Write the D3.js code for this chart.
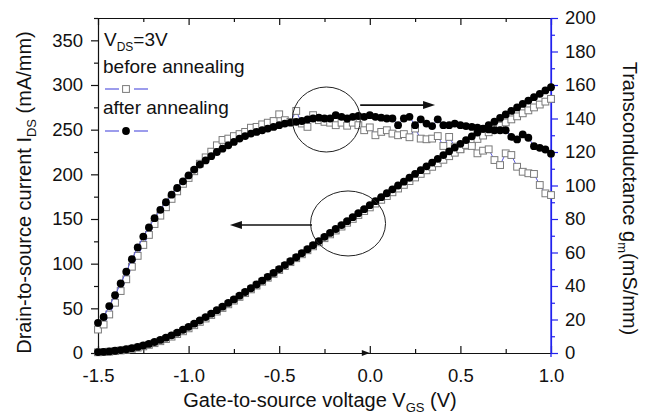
<!DOCTYPE html>
<html><head><meta charset="utf-8">
<script src="https://cdn.jsdelivr.net/npm/d3@7"></script>
<style>
body{margin:0;background:#fff}
text{font-family:Arial,"Liberation Sans",Helvetica,sans-serif;fill:#111}
</style>
</head><body>
<svg id="c" width="649" height="416"></svg>
<script>
// ---- data ----
const vgs=[-1.5,-1.469,-1.438,-1.406,-1.375,-1.344,-1.313,-1.281,-1.25,-1.219,-1.188,-1.156,-1.125,-1.094,-1.063,-1.031,-1.0,-0.969,-0.938,-0.906,-0.875,-0.844,-0.813,-0.781,-0.75,-0.719,-0.688,-0.656,-0.625,-0.594,-0.563,-0.531,-0.5,-0.469,-0.438,-0.406,-0.375,-0.344,-0.313,-0.281,-0.25,-0.219,-0.188,-0.156,-0.125,-0.094,-0.063,-0.031,0.0,0.031,0.063,0.094,0.125,0.156,0.188,0.219,0.25,0.281,0.313,0.344,0.375,0.406,0.438,0.469,0.5,0.531,0.563,0.594,0.625,0.656,0.688,0.719,0.75,0.781,0.813,0.844,0.875,0.906,0.938,0.969,1.0];
const idsAfter=[1.0,1.3,1.8,2.5,3.3,4.2,5.4,6.8,8.4,10.2,12.3,14.6,17.1,19.8,22.8,26.0,29.3,32.8,36.4,40.2,44.0,47.9,51.9,56.0,60.0,64.2,68.3,72.5,76.7,81.0,85.3,89.6,94.0,98.4,102.8,107.2,111.7,116.2,120.7,125.3,130,134.4,138.8,143.2,147.6,152,156.5,161,165.5,170,174.4,178.8,183.2,187.5,191.8,196.2,200.5,204.7,209,213.2,217.4,221.6,225.8,230,234.2,238.4,242.6,246.8,250.9,255,259.1,263.1,267.1,271,274.9,278.8,282.6,286.4,290.1,293.9,297.5];
const idsBefore=[0.8,1.1,1.5,2.1,2.8,3.6,4.7,6.0,7.4,9.1,11.0,13.2,15.6,18.3,21.2,24.3,27.6,31.1,34.8,38.6,42.5,46.4,50.4,54.5,58.6,62.8,67.0,71.2,75.5,79.8,84.2,88.5,92.9,97.3,101.7,106.1,110.5,115.0,119.4,123.9,128.5,132.8,137.1,141.5,145.8,150.1,154.5,158.9,163,167.3,171.5,175.7,179.9,184.1,188.2,192.4,196.5,200.5,204.5,208.4,212.4,216.3,220.3,224.2,228.2,232,235.8,239.6,243.4,247.1,250.8,254.5,258.1,261.5,264.9,268.3,271.6,274.9,278.1,281.4,284.5];
const gmAfter=[18,21.5,28,34.5,41.5,48.5,56,63,69.5,75,80.5,85.5,90,94.5,98.5,102.5,106,109.5,112.5,115,117.5,120,122,124,126,128,129.5,131,132,133,134,135,136,137,137.5,138,138.5,139.5,140,140.5,140,140,142,141,140,141,141.5,141,142,141,140.5,140,140,136,140,141,136,139.5,137,135.5,139.5,136,136,137,136,135.5,135,134.5,134,133.5,133,133,133,129,127.5,130.5,128.5,123.5,122.5,121.5,119];
const gmBefore=[14,17,23,30,37,44,51.5,58,64.5,70.5,77,82,87,92,96.5,101,104.5,108.5,113,116.8,120.2,124,127.2,128,129.5,130.7,132,134.5,135,136.5,137.5,138.5,142.5,139,138,144.5,137,135,142,139,138,137.5,136,137.5,135.7,137.5,136,133,134.7,130,132,133,131,130,130.7,128.8,134,128,127.6,128,129.5,123.6,129,123.2,121.6,124.2,123.6,119.2,120.8,121.6,115.2,112.2,119.2,118.2,111.2,108.2,107.3,106.9,100.3,95.3,94.3];
const xTicks=[-1.5,-1.0,-0.5,0.0,0.5,1.0];
const xMinor=[-1.25,-0.75,-0.25,0.25,0.75];
const leftTicks=[0,50,100,150,200,250,300,350];
const leftMinor=[25,75,125,175,225,275,325,375];
const rightTicks=[0,20,40,60,80,100,120,140,160,180,200];
const rightMinor=[10,30,50,70,90,110,130,150,170,190];
const legendLabels=["before annealing","after annealing"];

// ---- layout ----
const L=98,R=551,T=18,B=353;
const svg=d3.select("#c");
const x=d3.scaleLinear().domain([-1.5,1.0]).range([L,R]);
const yL=d3.scaleLinear().domain([0,375]).range([B,T]);
const yR=d3.scaleLinear().domain([0,200]).range([B,T]);
const FS=18.5, TFS=20, LFS=19, BLUE="#2222ee", LINEC="#5a5ae0";

function styleAxis(g,color){g.select(".domain").attr("stroke",color).attr("stroke-width",1.2);
  g.selectAll(".tick line").attr("stroke",color).attr("stroke-width",1.2);
  g.selectAll("text").attr("font-size",FS).attr("fill","#111").style("font-family",'Arial,"Liberation Sans",sans-serif');}

const fmtX=v=>v.toFixed(1);
svg.append("g").attr("transform",`translate(0,${B})`)
  .call(d3.axisBottom(x).tickValues(xTicks).tickFormat(fmtX).tickSizeInner(-7).tickSizeOuter(0).tickPadding(16))
  .call(g=>styleAxis(g,"#111"));
svg.append("g").attr("transform",`translate(0,${B})`)
  .call(d3.axisBottom(x).tickValues(xMinor).tickFormat("").tickSizeInner(-4).tickSizeOuter(0))
  .call(g=>{styleAxis(g,"#111");g.select(".domain").remove();});
svg.append("g").attr("transform",`translate(0,${T})`)
  .call(d3.axisTop(x).tickValues(xTicks).tickFormat("").tickSizeInner(-7).tickSizeOuter(0))
  .call(g=>styleAxis(g,"#111"));
svg.append("g").attr("transform",`translate(0,${T})`)
  .call(d3.axisTop(x).tickValues(xMinor).tickFormat("").tickSizeInner(-4).tickSizeOuter(0))
  .call(g=>{styleAxis(g,"#111");g.select(".domain").remove();});

svg.append("g").attr("transform",`translate(${L},0)`)
  .call(d3.axisLeft(yL).tickValues(leftTicks).tickSizeInner(7).tickSizeOuter(0).tickPadding(8))
  .call(g=>styleAxis(g,"#111"));
svg.append("g").attr("transform",`translate(${L},0)`)
  .call(d3.axisLeft(yL).tickValues(leftMinor).tickFormat("").tickSizeInner(4).tickSizeOuter(0))
  .call(g=>{styleAxis(g,"#111");g.select(".domain").remove();});

svg.append("g").attr("transform",`translate(${R},0)`)
  .call(d3.axisRight(yR).tickValues(rightTicks).tickSizeInner(7).tickSizeOuter(0).tickPadding(7))
  .call(g=>styleAxis(g,BLUE));
svg.append("g").attr("transform",`translate(${R},0)`)
  .call(d3.axisRight(yR).tickValues(rightMinor).tickFormat("").tickSizeInner(4).tickSizeOuter(0))
  .call(g=>{styleAxis(g,BLUE);g.select(".domain").remove();});
svg.append("line").attr("x1",R).attr("x2",R).attr("y1",T).attr("y2",B+4).attr("stroke",BLUE).attr("stroke-width",1.3);

// small arrowhead on x axis near 0
const x0=x(0);
svg.append("path").attr("d",`M${x0-8},${B-3}L${x0},${B}L${x0-8},${B+3}Z`).attr("fill","#111");

// ---- series ----
const pts=(ys)=>vgs.map((v,i)=>[v,ys[i]]);
function drawSeries(ys,yS,kind){
  const line=d3.line().x(d=>x(d[0])).y(d=>yS(d[1]));
  svg.append("path").attr("d",line(pts(ys))).attr("fill","none").attr("stroke",LINEC).attr("stroke-width",1);
  const g=svg.append("g");
  if(kind==="sq"){
    g.selectAll("rect").data(pts(ys)).join("rect")
      .attr("x",d=>x(d[0])-3.4).attr("y",d=>yS(d[1])-3.4).attr("width",6.8).attr("height",6.8)
      .attr("fill","#fff").attr("stroke","#7a7a7a").attr("stroke-width",1);
  } else {
    g.selectAll("circle").data(pts(ys)).join("circle")
      .attr("cx",d=>x(d[0])).attr("cy",d=>yS(d[1])).attr("r",3.9).attr("fill","#000");
  }
}
drawSeries(idsBefore,yL,"sq");
drawSeries(gmBefore,yR,"sq");
drawSeries(idsAfter,yL,"ci");
drawSeries(gmAfter,yR,"ci");

// ---- annotations: ellipses and arrows ----
svg.append("ellipse").attr("cx",x(-0.24)).attr("cy",yR(139.4)).attr("rx",34).attr("ry",32.5)
  .attr("fill","none").attr("stroke","#222").attr("stroke-width",1);
svg.append("ellipse").attr("cx",x(-0.12)).attr("cy",yL(145)).attr("rx",37.5).attr("ry",32.5)
  .attr("fill","none").attr("stroke","#222").attr("stroke-width",1);
function arrow(x1,x2,y){
  const dir=Math.sign(x2-x1);
  svg.append("line").attr("x1",x1).attr("x2",x2-dir*10).attr("y1",y).attr("y2",y).attr("stroke","#111").attr("stroke-width",1.6);
  svg.append("path").attr("d",`M${x2},${y}L${x2-dir*12},${y-4}L${x2-dir*12},${y+4}Z`).attr("fill","#111");
}
arrow(x(-0.053),x(0.36),yR(148));
arrow(x(-0.319),x(-0.772),yL(143.3));

// ---- legend ----
const lg=svg.append("g");
const t1=lg.append("text").attr("x",104).attr("y",46).attr("font-size",LFS);
t1.append("tspan").text("V");
t1.append("tspan").attr("font-size",12).attr("dy",5).text("DS");
t1.append("tspan").attr("dy",-5).text("=3V");
lg.append("text").attr("x",103).attr("y",73).attr("font-size",LFS).text(legendLabels[0]);
lg.append("text").attr("x",103).attr("y",114).attr("font-size",LFS).text(legendLabels[1]);
function legSym(y,kind){
  lg.append("line").attr("x1",105).attr("x2",119).attr("y1",y).attr("y2",y).attr("stroke",LINEC).attr("stroke-width",1.2);
  lg.append("line").attr("x1",134).attr("x2",148).attr("y1",y).attr("y2",y).attr("stroke",LINEC).attr("stroke-width",1.2);
  if(kind==="sq") lg.append("rect").attr("x",122.6).attr("y",y-3.4).attr("width",6.8).attr("height",6.8).attr("fill","#fff").attr("stroke","#7a7a7a");
  else lg.append("circle").attr("cx",126).attr("cy",y).attr("r",3.9).attr("fill","#000");
}
legSym(89,"sq");
legSym(131,"ci");

// ---- axis titles ----
const xt=svg.append("text").attr("x",320).attr("y",407).attr("text-anchor","middle").attr("font-size",TFS);
xt.append("tspan").text("Gate-to-source voltage V");
xt.append("tspan").attr("font-size",13).attr("dy",5).text("GS");
xt.append("tspan").attr("dy",-5).text(" (V)");

const yt=svg.append("text").attr("transform",`translate(31,192.5) rotate(-90)`).attr("text-anchor","middle").attr("font-size",TFS);
yt.append("tspan").text("Drain-to-source current I");
yt.append("tspan").attr("font-size",13).attr("dy",5).text("DS");
yt.append("tspan").attr("dy",-5).text(" (mA/mm)");

const rt=svg.append("text").attr("transform",`translate(623,198.5) rotate(90)`).attr("text-anchor","middle").attr("font-size",TFS);
rt.append("tspan").text("Transconductance g");
rt.append("tspan").attr("font-size",13).attr("dy",5).text("m");
rt.append("tspan").attr("dy",-5).text("(mS/mm)");
</script>
</body></html>
